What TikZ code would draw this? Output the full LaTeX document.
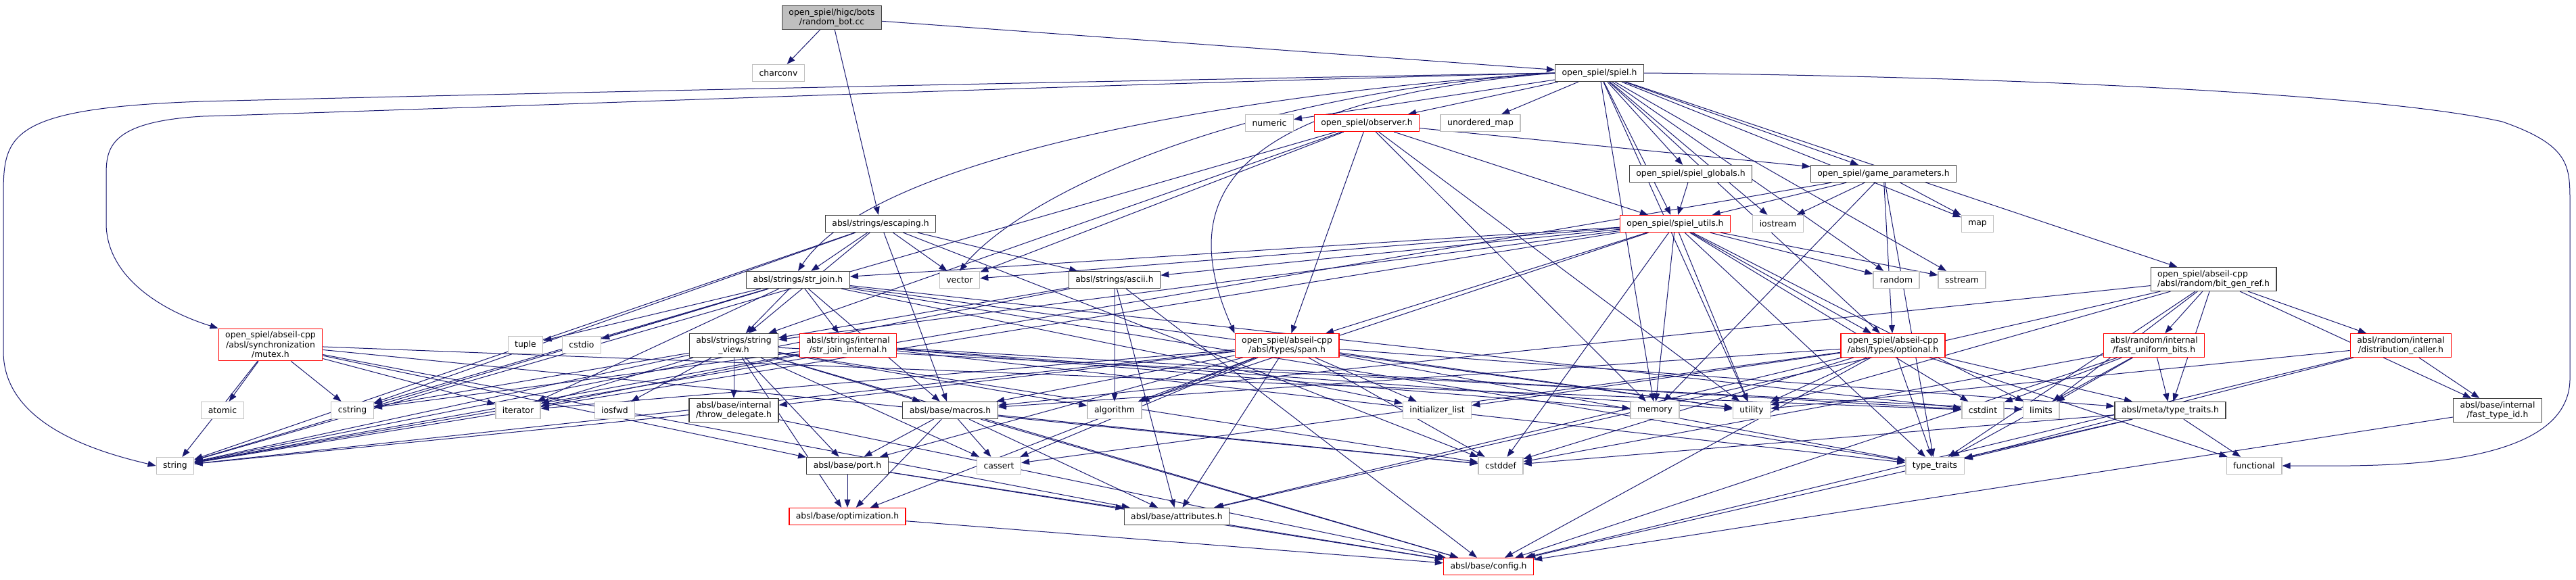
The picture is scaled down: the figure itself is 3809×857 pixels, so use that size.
\documentclass[tikz,border=0pt]{standalone}
\usepackage{fontspec}
\setmainfont{DejaVu Sans}
\usepackage{tikz}
\usetikzlibrary{arrows.meta,backgrounds}
\definecolor{edgeblue}{HTML}{191970}
\definecolor{boxgray}{HTML}{BFBFBF}
\definecolor{boxink}{HTML}{404040}
\definecolor{truncred}{HTML}{FF0000}

\begin{document}
\begin{tikzpicture}[
  x=1pt, y=-1pt,
  every node/.style={font=\fontsize{12.4}{14.5}\selectfont},
  hdr/.style={draw=boxink, fill=white, line width=1.3pt, inner xsep=10pt, inner ysep=4pt, minimum height=25pt, align=center},
  sys/.style={hdr, draw=boxgray},
  trunc/.style={hdr, draw=truncred},
  rootfile/.style={hdr, fill=boxgray},
  arr/.style={-{Triangle[length=12pt,width=9pt]}, line width=1pt, color=edgeblue}
]
  \useasboundingbox (0,0) rectangle (3809,857);

  % File being documented
  \node[rootfile] (root) at (1230,26) {open\_spiel/higc/bots\\/random\_bot.cc};

  % Upper rows
  \node[sys] (charconv) at (1151,108) {charconv};
  \node[hdr] (spiel) at (2365,108) {open\_spiel/spiel.h};
  \node[sys] (numeric) at (1877,182) {numeric};
  \node[trunc] (observer) at (2021,182) {open\_spiel/observer.h};
  \node[sys] (umap) at (2189,182) {unordered\_map};
  \node[hdr] (globals) at (2500,257) {open\_spiel/spiel\_globals.h};
  \node[hdr] (gparams) at (2785,257) {open\_spiel/game\_parameters.h};
  \node[hdr] (escaping) at (1302,331) {absl/strings/escaping.h};
  \node[trunc] (utils) at (2477,331) {open\_spiel/spiel\_utils.h};
  \node[sys] (iostream) at (2629,331) {iostream};
  \node[sys] (map) at (2924,331) {map};
  \node[hdr, align=left] (bitgen) at (3273,413) {open\_spiel/abseil-cpp\\/absl/random/bit\_gen\_ref.h};
  \node[hdr] (strjoin) at (1180,414) {absl/strings/str\_join.h};
  \node[sys] (vector) at (1419,414) {vector};
  \node[hdr] (ascii) at (1648,414) {absl/strings/ascii.h};
  \node[sys] (random) at (2804,414) {random};
  \node[sys] (sstream) at (2901,414) {sstream};

  % Middle rows
  \node[trunc] (mutex) at (400,510) {open\_spiel/abseil-cpp\\/absl/synchronization\\/mutex.h};
  \node[sys] (tuple) at (777,510) {tuple};
  \node[sys] (cstdio) at (860,510) {cstdio};
  \node[hdr] (strview) at (1085,511) {absl/strings/string\\\_view.h};
  \node[trunc] (sjinternal) at (1254,511) {absl/strings/internal\\/str\_join\_internal.h};
  \node[trunc] (span) at (1903,511) {open\_spiel/abseil-cpp\\/absl/types/span.h};
  \node[trunc] (optional) at (2799,511) {open\_spiel/abseil-cpp\\/absl/types/optional.h};
  \node[trunc] (fub) at (3185,511) {absl/random/internal\\/fast\_uniform\_bits.h};
  \node[trunc] (dcaller) at (3550,511) {absl/random/internal\\/distribution\_caller.h};

  \node[sys] (atomic) at (329,607) {atomic};
  \node[sys] (cstring) at (521,607) {cstring};
  \node[sys] (iterator) at (766,607) {iterator};
  \node[sys] (iosfwd) at (909,607) {iosfwd};
  \node[hdr] (throwdel) at (1085,607) {absl/base/internal\\/throw\_delegate.h};
  \node[hdr] (macros) at (1405,607) {absl/base/macros.h};
  \node[sys] (algorithm) at (1648,607) {algorithm};
  \node[sys] (initlist) at (2125,607) {initializer\_list};
  \node[sys] (memory) at (2447,607) {memory};
  \node[sys] (utility) at (2590,607) {utility};
  \node[sys] (cstdint) at (2932,607) {cstdint};
  \node[sys] (limits) at (3018,607) {limits};
  \node[hdr] (metatt) at (3209,607) {absl/meta/type\_traits.h};
  \node[hdr] (fasttid) at (3693,607) {absl/base/internal\\/fast\_type\_id.h};

  % Lower rows
  \node[sys] (string) at (259,689) {string};
  \node[hdr] (port) at (1253,689) {absl/base/port.h};
  \node[sys] (cassert) at (1477,689) {cassert};
  \node[sys] (cstddef) at (2219,689) {cstddef};
  \node[sys] (typetraits) at (2861,689) {type\_traits};
  \node[sys] (functional) at (3333,689) {functional};
  \node[trunc] (optim) at (1253,764) {absl/base/optimization.h};
  \node[hdr] (attrs) at (1740,764) {absl/base/attributes.h};
  \node[trunc] (config) at (2201,838) {absl/base/config.h};

  % Includes
  \begin{scope}[on background layer]
    \foreach \t in {charconv,spiel,escaping} \draw[arr] (root) -- (\t);
    \foreach \t in {numeric,observer,umap,globals,utils,gparams,iostream,map,random,sstream,bitgen,optional,memory,utility}
      \draw[arr] (spiel) -- (\t);
    \draw[arr] (spiel.west) .. controls (1900,132) and (1300,220) .. (strjoin.north);
    \draw[arr] (spiel.west) .. controls (1800,140) and (1500,300) .. (vector.north);
    \draw[arr] (spiel.west) .. controls (1800,150) and (1740,300) .. (span.north west);
    \draw[arr] (spiel.west) .. controls (1500,122) and (700,140) .. (300,150)
      .. controls (10,160) and (5,200) .. (5,290) -- (5,520) .. controls (5,630) and (150,670) .. (string.west);
    \draw[arr] (spiel.west) .. controls (1500,128) and (700,160) .. (300,172)
      .. controls (160,180) and (157,220) .. (157,260) -- (157,330) .. controls (157,410) and (240,460) .. (mutex.north west);
    \draw[arr] (spiel.east) .. controls (2900,112) and (3500,135) .. (3700,180)
      .. controls (3800,215) and (3800,245) .. (3800,300) -- (3800,560) .. controls (3800,700) and (3500,689) .. (functional.east);
    \foreach \t in {gparams,utils,span,strview,memory,string,vector,utility} \draw[arr] (observer) -- (\t);
    \draw[arr] (globals) -- (utils);
    \foreach \t in {utils,iostream,map,memory,string,optional,typetraits} \draw[arr] (gparams) -- (\t);
    \foreach \t in {strjoin,vector,ascii,strview,string,span,optional,random,sstream,memory,utility,algorithm,cstddef,cstdint,limits,typetraits}
      \draw[arr] (utils) -- (\t);
    \foreach \t in {strjoin,strview,string,cstring,macros,vector,ascii,cstddef} \draw[arr] (escaping) -- (\t);
    \foreach \t in {tuple,cstdio,cstring,initlist,iterator,string,typetraits,utility,macros,sjinternal,strview,cstdint}
      \draw[arr] (strjoin) -- (\t);
    \foreach \t in {algorithm,string,attrs,config,strview} \draw[arr] (ascii) -- (\t);
    \foreach \t in {iterator,memory,string,typetraits,utility,cstdint,cstring} \draw[arr] (sjinternal) -- (\t);
    \foreach \t in {algorithm,cassert,cstddef,cstring,iosfwd,iterator,limits,string,config,throwdel,macros,optim,port}
      \draw[arr] (strview) -- (\t);
    \foreach \t in {string,config} \draw[arr] (throwdel) -- (\t);
    \foreach \t in {algorithm,cassert,cstddef,initlist,iterator,string,typetraits,utility,attrs,optim,port,throwdel,macros,metatt}
      \draw[arr] (span) -- (\t);
    \foreach \t in {cassert,cstddef,functional,initlist,typetraits,utility,attrs,config,macros,metatt}
      \draw[arr] (optional) -- (\t);
    \foreach \t in {string,atomic,cstring,cstdint,attrs,port,iterator,cstddef} \draw[arr] (mutex) -- (\t);
    \foreach \t in {fub,metatt,dcaller,fasttid,limits,typetraits,utility,attrs,macros} \draw[arr] (bitgen) -- (\t);
    \foreach \t in {cstddef,cstdint,limits,typetraits,config,metatt} \draw[arr] (fub) -- (\t);
    \foreach \t in {utility,typetraits,config,fasttid} \draw[arr] (dcaller) -- (\t);
    \foreach \t in {cstddef,functional,typetraits,config} \draw[arr] (metatt) -- (\t);
    \draw[arr] (fasttid) -- (config);
    \foreach \t in {cassert,cstddef,attrs,config,optim,port} \draw[arr] (macros) -- (\t);
    \foreach \t in {attrs,config,optim} \draw[arr] (port) -- (\t);
    \draw[arr] (optim) -- (config);
    \draw[arr] (attrs) -- (config);
  \end{scope}
\end{tikzpicture}
\end{document}
